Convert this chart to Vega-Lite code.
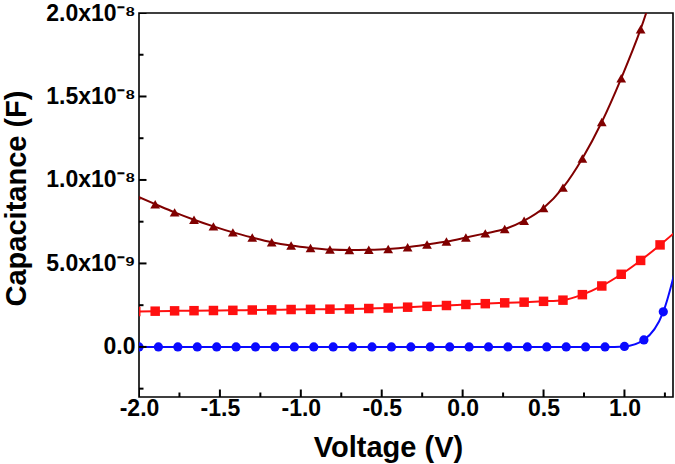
{
  "$schema": "https://vega.github.io/schema/vega-lite/v6.json",
  "width": 534,
  "height": 384,
  "autosize": {"type": "none"},
  "padding": {"left": 139, "top": 13, "right": 2, "bottom": 67},
  "background": "white",
  "config": {
    "view": {"stroke": "black", "strokeWidth": 1.6},
    "font": "Liberation Sans"
  },
  "datasets": {
    "xticks": [
      {"t": -2.0, "m": 1}, {"t": -1.75, "m": 0}, {"t": -1.5, "m": 1}, {"t": -1.25, "m": 0}, {"t": -1.0, "m": 1},
      {"t": -0.75, "m": 0}, {"t": -0.5, "m": 1}, {"t": -0.25, "m": 0}, {"t": 0.0, "m": 1}, {"t": 0.25, "m": 0},
      {"t": 0.5, "m": 1}, {"t": 0.75, "m": 0}, {"t": 1.0, "m": 1}, {"t": 1.25, "m": 0}
    ],
    "yticks": [
      {"t": -2.5e-9, "m": 0}, {"t": 0, "m": 1}, {"t": 2.5e-9, "m": 0}, {"t": 5e-9, "m": 1}, {"t": 7.5e-9, "m": 0},
      {"t": 1e-8, "m": 1}, {"t": 1.25e-8, "m": 0}, {"t": 1.5e-8, "m": 1}, {"t": 1.75e-8, "m": 0}, {"t": 2e-8, "m": 1}
    ]
  },
  "data": {
    "values": [
      {"V": -2.0, "C": 0.0, "s": "A"}, {"V": -1.88, "C": 0.0, "s": "A"}, {"V": -1.76, "C": 0.0, "s": "A"}, {"V": -1.64, "C": 0.0, "s": "A"},
      {"V": -1.52, "C": 0.0, "s": "A"}, {"V": -1.40, "C": 0.0, "s": "A"}, {"V": -1.28, "C": 0.0, "s": "A"}, {"V": -1.16, "C": 0.0, "s": "A"},
      {"V": -1.04, "C": 0.0, "s": "A"}, {"V": -0.92, "C": 0.0, "s": "A"}, {"V": -0.80, "C": 0.0, "s": "A"}, {"V": -0.68, "C": 0.0, "s": "A"},
      {"V": -0.56, "C": 0.0, "s": "A"}, {"V": -0.44, "C": 0.0, "s": "A"}, {"V": -0.32, "C": 0.0, "s": "A"}, {"V": -0.20, "C": 0.0, "s": "A"},
      {"V": -0.08, "C": 0.0, "s": "A"}, {"V": 0.04, "C": 0.0, "s": "A"}, {"V": 0.16, "C": 0.0, "s": "A"}, {"V": 0.28, "C": 0.0, "s": "A"},
      {"V": 0.40, "C": 0.0, "s": "A"}, {"V": 0.52, "C": 0.0, "s": "A"}, {"V": 0.64, "C": 0.0, "s": "A"}, {"V": 0.76, "C": 0.0, "s": "A"},
      {"V": 0.88, "C": 0.0, "s": "A"}, {"V": 1.00, "C": 3e-11, "s": "A"}, {"V": 1.12, "C": 4.2e-10, "s": "A"}, {"V": 1.24, "C": 2.1e-9, "s": "A"},
      {"V": 1.36, "C": 6.5e-9, "s": "A"},

      {"V": -2.02, "C": 2.12e-9, "s": "B"}, {"V": -1.90, "C": 2.14e-9, "s": "B"}, {"V": -1.78, "C": 2.16e-9, "s": "B"}, {"V": -1.66, "C": 2.17e-9, "s": "B"},
      {"V": -1.54, "C": 2.18e-9, "s": "B"}, {"V": -1.42, "C": 2.19e-9, "s": "B"}, {"V": -1.30, "C": 2.21e-9, "s": "B"}, {"V": -1.18, "C": 2.22e-9, "s": "B"},
      {"V": -1.06, "C": 2.24e-9, "s": "B"}, {"V": -0.94, "C": 2.25e-9, "s": "B"}, {"V": -0.82, "C": 2.26e-9, "s": "B"}, {"V": -0.70, "C": 2.27e-9, "s": "B"},
      {"V": -0.58, "C": 2.30e-9, "s": "B"}, {"V": -0.46, "C": 2.33e-9, "s": "B"}, {"V": -0.34, "C": 2.38e-9, "s": "B"}, {"V": -0.22, "C": 2.43e-9, "s": "B"},
      {"V": -0.10, "C": 2.48e-9, "s": "B"}, {"V": 0.02, "C": 2.54e-9, "s": "B"}, {"V": 0.14, "C": 2.59e-9, "s": "B"}, {"V": 0.26, "C": 2.64e-9, "s": "B"},
      {"V": 0.38, "C": 2.68e-9, "s": "B"}, {"V": 0.50, "C": 2.73e-9, "s": "B"}, {"V": 0.62, "C": 2.80e-9, "s": "B"}, {"V": 0.74, "C": 3.13e-9, "s": "B"},
      {"V": 0.86, "C": 3.65e-9, "s": "B"}, {"V": 0.98, "C": 4.35e-9, "s": "B"}, {"V": 1.10, "C": 5.18e-9, "s": "B"}, {"V": 1.22, "C": 6.11e-9, "s": "B"},
      {"V": 1.34, "C": 7.1e-9, "s": "B"},

      {"V": -2.02, "C": 9.05e-9, "s": "C"}, {"V": -1.90, "C": 8.55e-9, "s": "C"}, {"V": -1.78, "C": 8.06e-9, "s": "C"}, {"V": -1.66, "C": 7.62e-9, "s": "C"},
      {"V": -1.54, "C": 7.22e-9, "s": "C"}, {"V": -1.42, "C": 6.86e-9, "s": "C"}, {"V": -1.30, "C": 6.55e-9, "s": "C"}, {"V": -1.18, "C": 6.27e-9, "s": "C"},
      {"V": -1.06, "C": 6.07e-9, "s": "C"}, {"V": -0.94, "C": 5.93e-9, "s": "C"}, {"V": -0.82, "C": 5.83e-9, "s": "C"}, {"V": -0.70, "C": 5.80e-9, "s": "C"},
      {"V": -0.58, "C": 5.82e-9, "s": "C"}, {"V": -0.46, "C": 5.87e-9, "s": "C"}, {"V": -0.34, "C": 5.97e-9, "s": "C"}, {"V": -0.22, "C": 6.13e-9, "s": "C"},
      {"V": -0.10, "C": 6.31e-9, "s": "C"}, {"V": 0.02, "C": 6.55e-9, "s": "C"}, {"V": 0.14, "C": 6.80e-9, "s": "C"}, {"V": 0.26, "C": 7.06e-9, "s": "C"},
      {"V": 0.38, "C": 7.56e-9, "s": "C"}, {"V": 0.50, "C": 8.32e-9, "s": "C"}, {"V": 0.62, "C": 9.54e-9, "s": "C"}, {"V": 0.74, "C": 1.129e-8, "s": "C"},
      {"V": 0.86, "C": 1.347e-8, "s": "C"}, {"V": 0.98, "C": 1.609e-8, "s": "C"}, {"V": 1.10, "C": 1.903e-8, "s": "C"}, {"V": 1.22, "C": 2.26e-8, "s": "C"}
    ]
  },
  "resolve": {"axis": {"x": "independent", "y": "independent"}},
  "layer": [
    {
      "mark": {"type": "line", "interpolate": "monotone", "strokeWidth": 2, "clip": true},
      "encoding": {
        "x": {
          "field": "V", "type": "quantitative",
          "scale": {"domain": [-2.0, 1.3], "nice": false, "zero": false},
          "axis": {
            "orient": "bottom",
            "offset": -7,
            "title": "Voltage (V)",
            "values": [-2.0, -1.5, -1.0, -0.5, 0.0, 0.5, 1.0],
            "labelExpr": "replace(format(datum.value, '.1f'), '\u2212', '-')",
            "labelOverlap": false,
            "labelFlush": false,
            "labelFont": "Liberation Sans", "labelFontWeight": "bold", "labelFontSize": 23, "labelColor": "black",
            "labelPadding": 7,
            "ticks": false,
            "tickSize": 7,
            "domain": false,
            "grid": false,
            "titleFont": "Liberation Sans", "titleFontWeight": "bold", "titleFontSize": 29, "titleColor": "black",
            "titleX": 249, "titleY": 66, "titleBaseline": "alphabetic", "titleAlign": "center", "titleAnchor": null
          }
        },
        "y": {
          "field": "C", "type": "quantitative",
          "scale": {"domain": [-3e-9, 2e-8], "nice": false, "zero": false},
          "axis": {
            "orient": "left",
            "offset": -7,
            "title": "Capacitance (F)",
            "values": [0, 5e-9, 1e-8, 1.5e-8, 2e-8],
            "labelExpr": "datum.value == 0 ? '0.0' : datum.value < 7e-9 ? '5.0x10\u207b\u2079' : format(datum.value*1e8, '.1f') + 'x10\u207b\u2078'",
            "labelOverlap": false,
            "labelFlush": false,
            "labelFont": "Liberation Sans", "labelFontWeight": "bold", "labelFontSize": 23, "labelColor": "black",
            "labelPadding": 11,
            "ticks": false,
            "tickSize": 7,
            "domain": false,
            "grid": false,
            "titleFont": "Liberation Sans", "titleFontWeight": "bold", "titleFontSize": 29, "titleColor": "black",
            "titleAngle": -90, "titleX": -121, "titleY": 185, "titleBaseline": "alphabetic", "titleAlign": "center", "titleAnchor": null
          }
        },
        "color": {
          "field": "s", "type": "nominal",
          "scale": {"domain": ["A", "B", "C"], "range": ["#0a0aff", "#ff1010", "#800000"]},
          "legend": null
        }
      }
    },
    {
      "mark": {"type": "point", "filled": true, "opacity": 1, "clip": true},
      "encoding": {
        "x": {"field": "V", "type": "quantitative", "axis": null},
        "y": {"field": "C", "type": "quantitative", "axis": null},
        "color": {
          "field": "s", "type": "nominal",
          "scale": {"domain": ["A", "B", "C"], "range": ["#0a0aff", "#ff1010", "#800000"]},
          "legend": null
        },
        "shape": {
          "field": "s", "type": "nominal",
          "scale": {"domain": ["A", "B", "C"], "range": ["circle", "square", "triangle-up"]},
          "legend": null
        },
        "size": {
          "field": "s", "type": "nominal",
          "scale": {"domain": ["A", "B", "C"], "range": [85, 95, 150]},
          "legend": null
        }
      }
    },
    {
      "data": {"name": "xticks"},
      "mark": {"type": "tick", "orient": "vertical", "clip": true, "thickness": 2, "color": "black", "opacity": 1},
      "encoding": {
        "x": {"field": "t", "type": "quantitative", "axis": null},
        "y": {"datum": -3e-9, "type": "quantitative", "axis": null},
        "size": {"field": "m", "type": "quantitative", "scale": {"domain": [0, 1], "range": [9, 15]}, "legend": null}
      }
    },
    {
      "data": {"name": "yticks"},
      "mark": {"type": "tick", "orient": "horizontal", "clip": true, "thickness": 2, "color": "black", "opacity": 1},
      "encoding": {
        "y": {"field": "t", "type": "quantitative", "axis": null},
        "x": {"datum": -2.0, "type": "quantitative", "axis": null},
        "size": {"field": "m", "type": "quantitative", "scale": {"domain": [0, 1], "range": [9, 15]}, "legend": null}
      }
    }
  ]
}
